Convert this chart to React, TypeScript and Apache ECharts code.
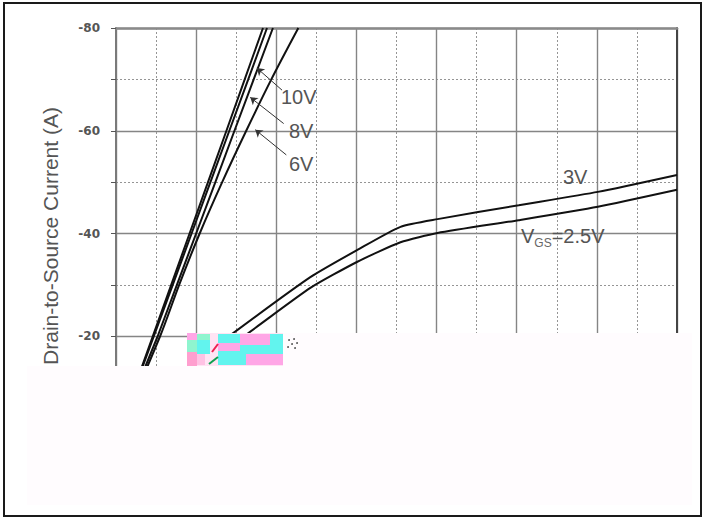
import React, { useEffect, useRef } from "react";
import * as echarts from "echarts";

// Steep (high VGS) curves: drain current levels and the drain-source voltage at each level
const steepCurrent = [0, -20, -30, -40, -50, -60, -70, -80];
const vdsTraceA = [0, -0.2295, -0.3445, -0.459, -0.574, -0.689, -0.803, -0.917];
const vdsTraceB = [0, -0.236, -0.354, -0.4715, -0.589, -0.707, -0.825, -0.942];
const vds8V = [0, -0.26, -0.38, -0.5, -0.62, -0.739, -0.859, -0.979];
const vds6V = [0, -0.275, -0.394, -0.522, -0.6625, -0.8125, -0.969, -1.1375];

// Low VGS curves
const vds3V = [0, -0.25, -0.5, -0.731, -1.2125, -1.506, -1.775, -2.006, -2.5125, -3.006, -3.5];
const id3V = [0, -8, -15, -20.6, -31.5, -36.8, -41.3, -42.8, -45.5, -48.1, -51.4];
const vds25V = [0, -0.3, -0.55, -0.806, -1.2125, -1.506, -1.775, -2.006, -2.5125, -3.006, -3.5];
const id25V = [0, -8, -15, -20.2, -29.4, -34.5, -38.3, -40.1, -42.6, -45.2, -48.5];

// Leader arrows (data coordinates): tail near label, tip at curve
const arrowTails = [
  [-1.036, -67.9],
  [-1.046, -61.4],
  [-1.0625, -55.3],
];
const arrowTips = [
  [-0.879, -72.2],
  [-0.8375, -66.5],
  [-0.869, -60.2],
];

const yTitle = "Drain-to-Source Current (A)";
const curveLabels = ["10V", "8V", "6V", "3V"];

const zip = (xs: number[], ys: number[]) => xs.map((x, i) => [x, ys[i]]);

const TEXT_FONT = "Liberation Sans, Arial, sans-serif";

export default function App() {
  const ref = useRef<HTMLDivElement>(null);

  useEffect(() => {
    if (!ref.current) return;
    const chart = echarts.init(ref.current, undefined, { renderer: "svg" });

    const curveStyle = { color: "#111", width: 2 };
    const mkSeries = (name: string, data: number[][], smooth: number | boolean, extra: any = {}) => ({
      type: "line",
      name,
      data,
      symbol: "none",
      smooth,
      lineStyle: curveStyle,
      itemStyle: { color: "#111" },
      emphasis: { disabled: true },
      silent: true,
      z: 3,
      ...extra,
    });

    const pink = "#ffa6e6";
    const cyan = "#62f4ee";
    const mint = "#8ff5cf";
    const blank = "#fffcfe";

    const option: any = {
      animation: false,
      backgroundColor: "#ffffff",
      grid: { left: 116, right: 28, top: 28, bottom: 79, containLabel: false },
      xAxis: [
        {
          type: "value",
          min: -3.5,
          max: 0,
          interval: 0.5,
          inverse: true,
          axisLine: { show: false },
          axisTick: { show: false },
          axisLabel: { show: false },
          splitLine: { show: true, lineStyle: { color: "#858585", width: 1.4, type: "solid" } },
          minorTick: { show: false, splitNumber: 2 },
          minorSplitLine: { show: true, lineStyle: { color: "#959595", width: 1, type: [2, 2] } },
        },
        {
          type: "value",
          position: "top",
          min: -3.5,
          max: 0,
          inverse: true,
          axisLine: { show: true, onZero: false, lineStyle: { color: "#8a8a8a", width: 2.5 } },
          axisTick: { show: false },
          axisLabel: { show: false },
          splitLine: { show: false },
        },
      ],
      yAxis: [
        {
          type: "value",
          min: -80,
          max: 0,
          interval: 20,
          inverse: true,
          axisLine: { show: true, onZero: false, lineStyle: { color: "#7a7a7a", width: 2 } },
          axisTick: { show: true, length: 5, lineStyle: { color: "#555", width: 1 } },
          minorTick: { show: true, splitNumber: 2, length: 5, lineStyle: { color: "#555", width: 1 } },
          axisLabel: {
            color: "#555",
            fontSize: 12,
            fontWeight: "bold",
            fontFamily: "DejaVu Sans",
            margin: 16,
            showMaxLabel: false,
            showMinLabel: true,
          },
          splitLine: { show: true, lineStyle: { color: "#858585", width: 1.4, type: "solid" } },
          minorSplitLine: { show: true, lineStyle: { color: "#959595", width: 1, type: [2, 2] } },
        },
        {
          type: "value",
          position: "right",
          min: -80,
          max: 0,
          inverse: true,
          axisLine: { show: true, onZero: false, lineStyle: { color: "#444", width: 2 } },
          axisTick: { show: false },
          axisLabel: { show: false },
          splitLine: { show: false },
        },
      ],
      series: [
        mkSeries("VGS=10V trace A", zip(vdsTraceA, steepCurrent), false),
        mkSeries("VGS=10V trace B", zip(vdsTraceB, steepCurrent), false),
        mkSeries("VGS=8V", zip(vds8V, steepCurrent), false, {
          markLine: {
            silent: true,
            animation: false,
            symbol: ["none", "arrow"],
            symbolSize: 7,
            label: { show: false },
            emphasis: { disabled: true },
            lineStyle: { color: "#333", width: 1, type: "solid" },
            data: arrowTails.map((t, i) => [{ coord: t }, { coord: arrowTips[i] }]),
          },
        }),
        mkSeries("VGS=6V", zip(vds6V, steepCurrent), 0.3),
        mkSeries("VGS=3V", zip(vds3V, id3V), 0.2),
        mkSeries("VGS=2.5V", zip(vds25V, id25V), 0.2),
      ],
      graphic: [
        // y-axis title
        {
          type: "text",
          x: 50,
          y: 236,
          rotation: Math.PI / 2,
          z: 160,
          style: {
            text: yTitle,
            fill: "#555",
            font: `21px ${TEXT_FONT}`,
            align: "center",
            verticalAlign: "middle",
          },
        },
        // curve labels
        { type: "text", x: 281, y: 97, z: 160, style: { text: curveLabels[0], fill: "#555", font: `20px ${TEXT_FONT}`, verticalAlign: "middle" } },
        { type: "text", x: 289, y: 131, z: 160, style: { text: curveLabels[1], fill: "#555", font: `20px ${TEXT_FONT}`, verticalAlign: "middle" } },
        { type: "text", x: 289, y: 164, z: 160, style: { text: curveLabels[2], fill: "#555", font: `20px ${TEXT_FONT}`, verticalAlign: "middle" } },
        { type: "text", x: 563, y: 177, z: 160, style: { text: curveLabels[3], fill: "#555", font: `20px ${TEXT_FONT}`, verticalAlign: "middle" } },
        {
          type: "text",
          x: 521,
          y: 236,
          z: 160,
          style: {
            text: "{a|V}{b|GS}{a|=2.5V}",
            fill: "#555",
            verticalAlign: "middle",
            rich: {
              a: { fontSize: 20, fontFamily: TEXT_FONT, fill: "#555" },
              b: { fontSize: 12, fontFamily: TEXT_FONT, fill: "#666", padding: [14, 0, 0, 0] },
            },
          },
        },
        // blanked (corrupted) lower part of the image
        { type: "rect", z: 150, shape: { x: 27, y: 366, width: 665, height: 139 }, style: { fill: blank } },
        { type: "rect", z: 150, shape: { x: 283, y: 333, width: 409, height: 34 }, style: { fill: blank } },
        // colour-noise artefact block
        { type: "rect", z: 151, shape: { x: 187, y: 333, width: 96, height: 33 }, style: { fill: "#ffe4f4" } },
        { type: "rect", z: 152, shape: { x: 187, y: 333, width: 10, height: 7 }, style: { fill: pink } },
        { type: "rect", z: 152, shape: { x: 187, y: 340, width: 10, height: 12 }, style: { fill: mint } },
        { type: "rect", z: 152, shape: { x: 187, y: 352, width: 10, height: 14 }, style: { fill: "#ff9fcf" } },
        { type: "rect", z: 152, shape: { x: 197, y: 334, width: 13, height: 6 }, style: { fill: mint } },
        { type: "rect", z: 152, shape: { x: 197, y: 340, width: 13, height: 14 }, style: { fill: cyan } },
        { type: "rect", z: 152, shape: { x: 197, y: 354, width: 8, height: 11 }, style: { fill: "#ffc2e4" } },
        { type: "rect", z: 152, shape: { x: 218, y: 334, width: 22, height: 9 }, style: { fill: cyan } },
        { type: "rect", z: 152, shape: { x: 218, y: 343, width: 22, height: 8 }, style: { fill: pink } },
        { type: "rect", z: 152, shape: { x: 218, y: 351, width: 22, height: 14 }, style: { fill: cyan } },
        { type: "rect", z: 152, shape: { x: 240, y: 334, width: 30, height: 11 }, style: { fill: pink } },
        { type: "rect", z: 152, shape: { x: 240, y: 345, width: 30, height: 9 }, style: { fill: cyan } },
        { type: "rect", z: 152, shape: { x: 240, y: 354, width: 6, height: 11 }, style: { fill: cyan } },
        { type: "rect", z: 152, shape: { x: 246, y: 354, width: 24, height: 11 }, style: { fill: pink } },
        { type: "rect", z: 152, shape: { x: 270, y: 334, width: 13, height: 20 }, style: { fill: cyan } },
        { type: "rect", z: 152, shape: { x: 270, y: 354, width: 13, height: 11 }, style: { fill: pink } },
        { type: "line", z: 153, shape: { x1: 212, y1: 352, x2: 218, y2: 344 }, style: { stroke: "#f02050", lineWidth: 2 } },
        { type: "line", z: 153, shape: { x1: 209, y1: 364, x2: 218, y2: 357 }, style: { stroke: "#10a050", lineWidth: 2 } },
        { type: "circle", z: 153, shape: { cx: 289, cy: 340, r: 0.8 }, style: { fill: "#333" } },
        { type: "circle", z: 153, shape: { cx: 294, cy: 339, r: 0.8 }, style: { fill: "#333" } },
        { type: "circle", z: 153, shape: { cx: 292, cy: 344, r: 0.8 }, style: { fill: "#333" } },
        { type: "circle", z: 153, shape: { cx: 297, cy: 343, r: 0.8 }, style: { fill: "#333" } },
        { type: "circle", z: 153, shape: { cx: 288, cy: 347, r: 0.8 }, style: { fill: "#333" } },
        { type: "circle", z: 153, shape: { cx: 295, cy: 348, r: 0.8 }, style: { fill: "#333" } },
        // outer frame
        {
          type: "rect",
          z: 200,
          shape: { x: 4, y: 3, width: 697, height: 513 },
          style: { fill: "none", stroke: "#1a1a1a", lineWidth: 2 },
        },
      ],
    };

    chart.setOption(option);
    return () => chart.dispose();
  }, []);

  return (
    <div
      ref={ref}
      style={{ position: "fixed", left: 0, top: 0, width: 705, height: 518, background: "#fff" }}
    />
  );
}
